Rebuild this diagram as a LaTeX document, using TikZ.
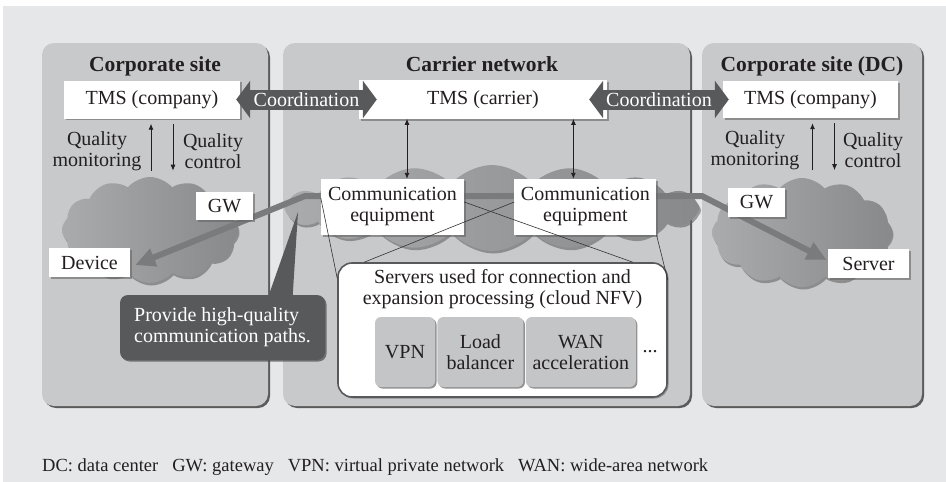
\documentclass[tikz,border=0pt]{standalone}
\usepackage{fontspec}
\setmainfont{Liberation Serif}
\usetikzlibrary{shapes.symbols, shadows, arrows.meta, positioning}
\definecolor{bggray}{RGB}{230,231,232}
\definecolor{panelgray}{RGB}{200,201,203}
\definecolor{darkbox}{RGB}{88,89,91}
\definecolor{pathgray}{RGB}{122,123,125}
\definecolor{cloudlight}{RGB}{170,171,173}
\definecolor{clouddark}{RGB}{136,137,139}
\definecolor{funcgray}{RGB}{196,197,199}
\definecolor{txt}{RGB}{35,31,32}

\begin{document}
\begin{tikzpicture}[x=1pt, y=-1pt,
	every node/.style={font=\fontsize{20}{21}\selectfont, text=txt},
	sitetitle/.style={font=\fontsize{21.5}{22}\selectfont\bfseries, anchor=base},
	panel/.style={fill=panelgray, rounded corners=12pt, drop shadow={shadow xshift=2pt, shadow yshift=-2pt, fill=black!70, opacity=0.9}},
	whitebox/.style={fill=white, inner sep=2pt, drop shadow={shadow xshift=1.5pt, shadow yshift=-1.5pt, fill=black!60, opacity=0.6}},
	netcloud/.style={cloud, cloud ignores aspect, cloud puff arc=100, left color=cloudlight, right color=clouddark, inner sep=0pt, drop shadow={shadow xshift=1.5pt, shadow yshift=-2.5pt, fill=black!60, opacity=0.6}},
	nfvbox/.style={fill=white, draw=darkbox, line width=1.6pt, rounded corners=14pt, drop shadow={shadow xshift=1.5pt, shadow yshift=-1.5pt, fill=black!60, opacity=0.6}},
	funcbox/.style={fill=funcgray, rounded corners=6pt, minimum height=70pt, inner sep=2pt, align=center, drop shadow={shadow xshift=1.5pt, shadow yshift=-1.5pt, fill=black!60, opacity=0.7}},
	notebox/.style={fill=darkbox, text=white, rounded corners=8pt, align=left, drop shadow={shadow xshift=1.5pt, shadow yshift=-1.5pt, fill=black!70, opacity=0.7}},
	coordarrow/.style={draw=darkbox, line width=20pt, {Triangle[width=37pt,length=14pt]}-{Triangle[width=37pt,length=14pt]}},
	commpath/.style={draw=pathgray, line width=6pt, line join=round, {Triangle[width=18pt,length=20pt]}-{Triangle[width=18pt,length=20pt]}},
	fanline/.style={draw=black!80, line width=0.6pt},
	vlink/.style={draw=txt, line width=0.9pt, {Latex[length=6pt,width=5pt]}-{Latex[length=6pt,width=5pt]}},
	qarrow/.style={draw=txt, line width=0.9pt, -{Latex[length=6pt,width=5pt]}}]
	\useasboundingbox (0,0) rectangle (946,482);
	\fill[white] (0,0) rectangle (946,482);
	\fill[bggray] (3,6) rectangle (946,482);

	% Sites
	\fill[panel] (42,43) rectangle (268,406);
	\fill[panel] (283,43) rectangle (690,406);
	\fill[panel] (702,43) rectangle (922,406);
	\node[sitetitle] (tL) at (155,71) {Corporate site};
	\node[sitetitle] (tC) at (482,71) {Carrier network};
	\node[sitetitle] (tR) at (812,71) {Corporate site (DC)};

	% Clouds
	\node[netcloud, cloud puffs=12, minimum width=176pt, minimum height=106pt] (cloudL) at (150,230) {};
	\node[netcloud, cloud puffs=16, minimum width=415pt, minimum height=86pt] (cloudC) at (492,208) {};
	\node[netcloud, cloud puffs=12, minimum width=180pt, minimum height=109pt] (cloudR) at (802,232.5) {};

	% End points of the path
	\node[whitebox, minimum width=81pt, minimum height=29pt] (dev) at (89.5,262.5) {Device};
	\node[whitebox, minimum width=81pt, minimum height=29pt] (srvr) at (868.5,263.5) {Server};

	% High-quality path
	\coordinate (bendL) at (305,196);
	\coordinate (bendR) at (702,196);
	\draw[commpath] ([xshift=5pt,yshift=-2.5pt]dev.east) -- (bendL) -- (bendR) -- ([xshift=-1pt,yshift=3.5pt]srvr.west);

	% Gateways
	\node[whitebox, minimum width=57pt, minimum height=28pt] (gwL) at (224.5,206) {GW};
	\node[whitebox, minimum width=57pt, minimum height=29pt] (gwR) at (756.5,202.5) {GW};

	% TMS
	\node[whitebox, minimum width=176pt, minimum height=38pt] (tmsL) at (152,99.5) {TMS (company)};
	\node[whitebox, minimum width=248pt, minimum height=39pt] (tmsC) at (483,99.5) {TMS (carrier)};
	\node[whitebox, minimum width=175pt, minimum height=37pt] (tmsR) at (810.5,99.5) {TMS (company)};

	% Quality labels
	\node[align=center] (qmL) at (97,151) {Quality\\monitoring};
	\node[align=center] (qcL) at (213,151) {Quality\\control};
	\node[align=center] (qmR) at (755,150) {Quality\\monitoring};
	\node[align=center] (qcR) at (873,150) {Quality\\control};

	% Communication equipment
	\node[whitebox, minimum width=143pt, minimum height=56pt, align=center] (comL) at (392.5,207) {Communication\\equipment};
	\node[whitebox, minimum width=142pt, minimum height=56pt, align=center, right=50pt of comL] (comR) {Communication\\equipment};

	% NFV servers
	\node[nfvbox, minimum width=329pt, minimum height=134pt] (nfv) at (502.5,330) {};
	\node[align=center] (nfvtxt) at (502.5,289) {Servers used for connection and\\expansion processing (cloud NFV)};
	\node[funcbox, minimum width=60pt] (vpn) at (405,352) {VPN};
	\node[funcbox, minimum width=86pt, right=2pt of vpn] (lb) {Load\\balancer};
	\node[funcbox, minimum width=110pt, right=2pt of lb] (wan) {WAN\\acceleration};
	\node[right=3pt of wan] (more) {...};

	% Thin lines to the servers
	\draw[fanline] ([yshift=9pt]comL.west) -- ([yshift=-16pt]nfv.north west);
	\draw[fanline] (comR.south east) -- ([yshift=-18pt]nfv.north east);
	\draw[fanline] ([yshift=5pt]comL.east) -- ([xshift=-35pt]nfv.north east);
	\draw[fanline] ([yshift=5pt]comR.west) -- ([xshift=27pt]nfv.north west);

	% Coordination
	\draw[coordarrow] ([xshift=-4pt]tmsL.east) -- ([xshift=18pt]tmsC.west) node[midway, text=white] (coL) {Coordination};
	\draw[coordarrow] ([xshift=-18pt]tmsC.east) -- ([xshift=6pt]tmsR.west) node[midway, text=white] (coR) {Coordination};

	% Carrier TMS to equipment
	\draw[vlink] ([xshift=14.5pt]comL.north) -- ([xshift=14.5pt,yshift=60pt]comL.north);
	\draw[vlink] ([xshift=-12pt]comR.north) -- ([xshift=-12pt,yshift=60pt]comR.north);

	% Monitoring and control
	\foreach \t/\dx in {tmsL/-1, tmsR/2}{
		\draw[qarrow] ([xshift=\dx pt, yshift=-52pt]\t.south) -- ([xshift=\dx pt, yshift=-5pt]\t.south);
		\draw[qarrow] ([xshift=\dx pt+22pt, yshift=-5pt]\t.south) -- ([xshift=\dx pt+22pt, yshift=-52pt]\t.south);
	}

	% Callout
	\coordinate (noteTip) at (298,212);
	\node[notebox, minimum width=205pt, minimum height=65pt] (note) at (222.5,327.5) {Provide high-quality\\communication paths.};
	\fill[darkbox] ([xshift=45pt,yshift=-4pt]note.north) -- (noteTip) -- ([xshift=70pt,yshift=-4pt]note.north) -- cycle;

	% Abbreviations
	\node[anchor=base west, inner sep=0pt, font=\fontsize{18.5}{20}\selectfont] (legend) at (42,471.5) {DC: data center\hspace{14pt}GW: gateway\hspace{14pt}VPN: virtual private network\hspace{14pt}WAN: wide-area network};
\end{tikzpicture}
\end{document}
